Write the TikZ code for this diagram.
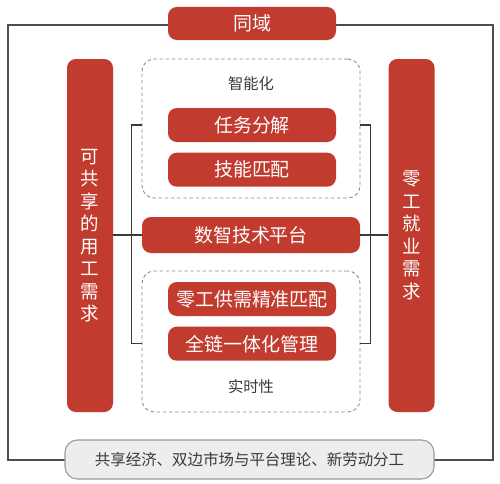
\documentclass[tikz,border=0pt]{standalone}
\usepackage{fontspec}
\setmainfont{Noto Sans CJK SC}
\usepackage{xcolor}
\usepackage{tikz}
\usetikzlibrary{positioning,calc}
\definecolor{brick}{HTML}{C23B2F}
\definecolor{ink}{HTML}{3A3A3A}
\definecolor{dashgray}{HTML}{8A8A8A}
\definecolor{palegray}{HTML}{EDEDED}
\tikzset{
  redbox/.style ={rounded corners=5pt,fill=brick,draw=none,text=white,
                  inner sep=0pt,align=center,font=\fontsize{10.8}{12}\selectfont},
  tallbox/.style={redbox,minimum width=0.92cm,minimum height=7.06cm,
                  font=\fontsize{10.5}{12.8}\selectfont},
  zone/.style   ={rounded corners=7pt,draw=dashgray,dash pattern=on 2pt off 1.5pt,
                  line width=0.5pt,inner sep=0pt},
  base/.style   ={rounded corners=7pt,draw=gray!80,line width=0.6pt,fill=palegray,
                  text=ink,inner sep=0pt,font=\fontsize{8.8}{10}\selectfont},
  link/.style   ={line width=0.6pt,draw=ink}
}
\begin{document}
\begin{tikzpicture}
    \useasboundingbox (0,0) rectangle (10,9.66);
    \draw[link,draw=ink!90] (0.16,0.46) rectangle (9.86,9.16);
    \node[redbox,minimum width=3.36cm,minimum height=0.66cm] (domain) at (5.04,9.19) {同域};
    \node[tallbox] (share) at (1.80,4.95) {可\\共\\享\\的\\用\\工\\需\\求};
    \node[tallbox] (gig) at (8.23,4.95) {零\\工\\就\\业\\需\\求};
    % two dashed zones
    \node[zone,minimum width=4.36cm,minimum height=2.78cm] (smart) at (5.02,7.09) {};
    \node[zone,minimum width=4.36cm,minimum height=2.82cm] (realtime) at (5.02,2.83) {};
    \node[font=\fontsize{8.7}{10}\selectfont,text=ink] (smartlbl) at (5.02,7.98) {智能化};
    \node[font=\fontsize{8.7}{10}\selectfont,text=ink] (rtlbl) at (5.02,1.92) {实时性};
    \node[redbox,minimum width=3.36cm,minimum height=0.68cm] (task) at (5.04,7.16) {任务分解};
    \node[redbox,minimum width=3.36cm,minimum height=0.68cm,below=0.2cm of task] (skill) {技能匹配};
    \node[redbox,minimum width=4.36cm,minimum height=0.72cm] (platform) at (5.02,4.96) {数智技术平台};
    \node[redbox,minimum width=3.36cm,minimum height=0.68cm] (match) at (5.04,3.68) {零工供需精准匹配};
    \node[redbox,minimum width=3.36cm,minimum height=0.68cm,below=0.2cm of match] (chain) {全链一体化管理};
    \node[base,minimum width=7.38cm,minimum height=0.78cm] (theory) at (4.99,0.47) {共享经济、双边市场与平台理论、新劳动分工};
    % brackets and links
    \draw[link] (smart.west |- task) -- ++(-0.2,0) |- (realtime.west |- chain);
    \draw[link] (smart.east |- task) -- ++(0.2,0) |- (realtime.east |- chain);
    \draw[link] (share.east |- platform) -- (platform.west);
    \draw[link] (platform.east) -- (gig.west |- platform);
\end{tikzpicture}
\end{document}
